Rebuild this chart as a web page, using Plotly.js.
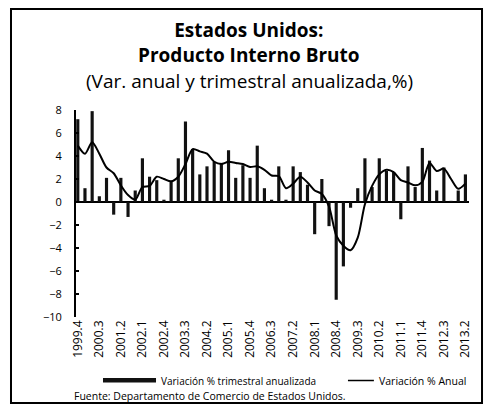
<!DOCTYPE html>
<html>
<head>
<meta charset="utf-8">
<script src="https://cdn.plot.ly/plotly-3.0.1.min.js"></script>
<style>
  html, body { margin: 0; padding: 0; background: #fff; }
  #chart { width: 485px; height: 413px; }
</style>
</head>
<body>
<div id="chart"></div>
<script>
// Quarters 1999.4 – 2013.2
const quarters = [
  "1999.4",
  "2000.1","2000.2","2000.3","2000.4",
  "2001.1","2001.2","2001.3","2001.4",
  "2002.1","2002.2","2002.3","2002.4",
  "2003.1","2003.2","2003.3","2003.4",
  "2004.1","2004.2","2004.3","2004.4",
  "2005.1","2005.2","2005.3","2005.4",
  "2006.1","2006.2","2006.3","2006.4",
  "2007.1","2007.2","2007.3","2007.4",
  "2008.1","2008.2","2008.3","2008.4",
  "2009.1","2009.2","2009.3","2009.4",
  "2010.1","2010.2","2010.3","2010.4",
  "2011.1","2011.2","2011.3","2011.4",
  "2012.1","2012.2","2012.3","2012.4",
  "2013.1","2013.2"
];

// Variación % trimestral anualizada (bars)
const quarterlyAnnualized = [
  7.2,
  1.2, 7.9, 0.5, 2.1,
  -1.1, 2.1, -1.3, 1.0,
  3.8, 2.2, 1.9, 0.2,
  1.8, 3.8, 7.0, 4.6,
  2.4, 3.1, 3.5, 3.4,
  4.5, 2.1, 3.2, 2.1,
  4.9, 1.2, 0.2, 3.1,
  0.2, 3.1, 2.6, 1.5,
  -2.8, 2.0, -2.1, -8.5,
  -5.6, -0.5, 1.2, 3.8,
  1.3, 3.8, 2.7, 2.6,
  -1.5, 3.1, 1.3, 4.7,
  3.6, 1.0, 3.0, 0.1,
  1.0, 2.4
];

// Variación % anual (line)
const annualChange = [
  4.9,
  4.2, 5.2, 4.2, 3.0,
  2.5, 1.45, 0.6, 0.2,
  1.3, 1.4, 2.2, 2.0,
  1.8, 2.2, 3.3, 4.6,
  4.4, 4.2, 3.5, 3.3,
  3.5, 3.4, 3.3, 3.05,
  3.1, 2.8, 2.3, 2.25,
  1.2, 1.6, 2.2, 1.7,
  1.0, 0.7, -0.4, -2.9,
  -3.8, -4.2, -3.1, -0.2,
  1.4, 2.4, 2.8, 2.6,
  1.9, 1.7, 1.45, 1.75,
  3.4, 2.7, 2.9, 2.0,
  1.15, 1.6
];

const seriesNames = ["Variación % trimestral anualizada", "Variación % Anual"];
const tickLabels = quarters.filter((q, i) => i % 3 === 0);
const titleText = "<b>Estados Unidos:</b><br><b>Producto Interno Bruto</b>";
const subtitleText = "(Var. anual y trimestral anualizada,%)";
const sourceText = "Fuente: Departamento de Comercio de Estados Unidos.";

const FONT = "Open Sans, Noto Sans, DejaVu Sans, sans-serif";

const traces = [
  {
    type: "bar",
    name: seriesNames[0],
    x: quarters,
    y: quarterlyAnnualized,
    marker: { color: "#111111" },
    showlegend: false
  },
  {
    type: "scatter",
    mode: "lines",
    name: seriesNames[1],
    x: quarters,
    y: annualChange,
    line: { color: "#000000", width: 2, shape: "spline", smoothing: 0.8 },
    showlegend: false
  }
];

const layout = {
  width: 485,
  height: 413,
  margin: { l: 76, r: 16, t: 110, b: 96 },
  paper_bgcolor: "#ffffff",
  plot_bgcolor: "#ffffff",
  font: { family: FONT, color: "#000000" },
  bargap: 0.56,
  showlegend: false,
  title: {
    text: titleText,
    font: { family: FONT, size: 19, color: "#000000" },
    x: 0.513,
    xanchor: "center",
    xref: "container",
    y: 0.9103,
    yanchor: "top",
    yref: "container"
  },
  xaxis: {
    type: "category",
    range: [-0.25, 54.5],
    tickmode: "array",
    tickvals: tickLabels,
    ticktext: tickLabels,
    tickangle: -90,
    ticks: "",
    showline: false,
    showgrid: false,
    zeroline: false,
    tickfont: { family: FONT, size: 12, color: "#000000" },
    fixedrange: true
  },
  yaxis: {
    range: [-10, 8],
    dtick: 2,
    tick0: 0,
    showgrid: false,
    showline: true,
    linecolor: "#000000",
    linewidth: 2,
    ticks: "inside",
    ticklen: 3,
    tickwidth: 1.5,
    tickcolor: "#000000",
    zeroline: true,
    zerolinecolor: "#000000",
    zerolinewidth: 2,
    ticklabelstandoff: 10,
    tickfont: { family: FONT, size: 11, color: "#000000" },
    fixedrange: true
  },
  shapes: [
    // outer frame
    { type: "rect", xref: "paper", yref: "paper",
      x0: -0.1654, x1: 1.0331, y0: -0.4155, y1: 1.4879,
      line: { color: "#000000", width: 2 }, fillcolor: "rgba(0,0,0,0)" },
    // legend: bar symbol
    { type: "rect", xref: "paper", yref: "paper",
      x0: 0.0687, x1: 0.2036, y0: -0.3164, y1: -0.2947,
      line: { width: 0 }, fillcolor: "#111111" },
    // legend: line symbol
    { type: "line", xref: "paper", yref: "paper",
      x0: 0.692, x1: 0.758, y0: -0.3068, y1: -0.3068,
      line: { color: "#000000", width: 1.5 } }
  ],
  annotations: [
    { xref: "paper", yref: "paper", x: 0.4415, y: 1.1377,
      xanchor: "center", yanchor: "middle", showarrow: false,
      text: subtitleText, font: { family: FONT, size: 19, color: "#000000" } },
    { xref: "paper", yref: "paper", x: 0.2112, y: -0.3068,
      xanchor: "left", yanchor: "middle", showarrow: false,
      text: seriesNames[0], font: { family: FONT, size: 10, color: "#000000" } },
    { xref: "paper", yref: "paper", x: 0.766, y: -0.3068,
      xanchor: "left", yanchor: "middle", showarrow: false,
      text: seriesNames[1], font: { family: FONT, size: 10.5, color: "#000000" } },
    { xref: "paper", yref: "paper", x: -0.0102, y: -0.384,
      xanchor: "left", yanchor: "middle", showarrow: false,
      text: sourceText, font: { family: FONT, size: 10.5, color: "#000000" } }
  ]
};

Plotly.newPlot("chart", traces, layout, { displayModeBar: false, staticPlot: true });
</script>
</body>
</html>
